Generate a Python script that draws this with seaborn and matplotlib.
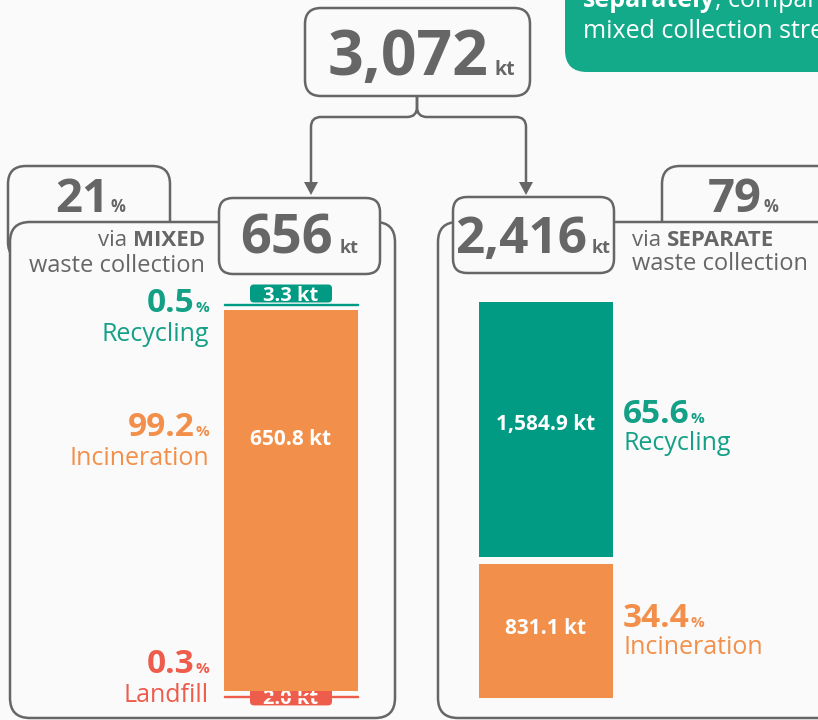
import numpy as np
import pandas as pd
import seaborn as sns
import matplotlib.pyplot as plt
from matplotlib.patches import FancyBboxPatch, Polygon, PathPatch
from matplotlib.path import Path

# data
total_kt = 3072
stream_kt = [656, 2416]
stream_share = [21, 79]
stream_names = ["MIXED", "SEPARATE"]

mixed_labels = ["Recycling", "Incineration", "Landfill"]
mixed_kt = [3.3, 650.8, 2.0]
mixed_pct = [0.5, 99.2, 0.3]

separate_labels = ["Recycling", "Incineration"]
separate_kt = [1584.9, 831.1]
separate_pct = [65.6, 34.4]

BAR_COLORS = {"Recycling": "#019b84", "Incineration": "#f2904b", "Landfill": "#ee5c4b"}
TXT_COLORS = {"Recycling": "#13a086", "Incineration": "#f2904b", "Landfill": "#ee5c4b"}
GREY = "#666666"
BG = "#fafafa"
W, H = 818, 720

sns.set_theme(style="white")
plt.rcParams["font.family"] = ["Open Sans", "DejaVu Sans"]

fig = plt.figure(figsize=(W / 100, H / 100), dpi=100, facecolor=BG)
ax = fig.add_axes([0, 0, 1, 1])
ax.set_xlim(0, W)
ax.set_ylim(H, 0)
ax.axis("off")
renderer = fig.canvas.get_renderer()


def box(x0, y0, x1, y1, r, fc=BG, ec=GREY, z=1):
    p = FancyBboxPatch((x0, y0), x1 - x0, y1 - y0,
                       boxstyle=f"round,pad=0,rounding_size={r}",
                       fc=fc, ec=ec, lw=1.8, zorder=z, clip_on=False)
    ax.add_patch(p)


def num_unit(x, y, num, unit, size, usize, color, ha="center", gap=3):
    t1 = ax.text(0, y, num, fontsize=size, fontweight="bold", color=color,
                 va="baseline", ha="left", zorder=6)
    t2 = ax.text(0, y, unit, fontsize=usize, fontweight="bold", color=color,
                 va="baseline", ha="left", zorder=6)
    w1 = t1.get_window_extent(renderer).width
    w2 = t2.get_window_extent(renderer).width
    tot = w1 + gap + w2
    x0 = {"center": x - tot / 2, "left": x, "right": x - tot}[ha]
    t1.set_x(x0)
    t2.set_x(x0 + w1 + gap)


# panels and tabs
box(8, 166, 170, 260, 18, z=1)
box(10, 222, 395, 718, 20, z=2)
box(662, 166, 860, 260, 18, z=1)
box(438, 222, 860, 718, 20, z=2)
box(219, 198, 380, 274, 14, z=3)
box(453, 197, 614, 273, 14, z=3)
box(305, 8, 530, 96, 16, z=3)
box(565, -40, 880, 72, 22, fc="#13aa8a", ec="none", z=3)

# top-right note (cut off by the figure edge, as in the source)
t = ax.text(583, 7, "separately", fontsize=18, fontweight="bold", color="white",
            va="baseline", ha="left", zorder=6)
wb = t.get_window_extent(renderer).width
ax.text(583 + wb, 7, ", compared to the", fontsize=18, color="white",
        va="baseline", ha="left", zorder=6)
ax.text(583, 38, "mixed collection stream", fontsize=18, color="white",
        va="baseline", ha="left", zorder=6)

# connector from total to the two streams
cx, yb, yh, r = 417, 97, 117, 10
xl, xr, ytip, ah = 311, 526, 195, 13
for xe in (xl, xr):
    s = -1 if xe < cx else 1
    verts = [(cx, yb), (cx, yh - r), (cx, yh), (cx + s * r, yh),
             (xe - s * r, yh), (xe, yh), (xe, yh + r), (xe, ytip - ah + 1)]
    codes = [Path.MOVETO, Path.LINETO, Path.CURVE3, Path.CURVE3,
             Path.LINETO, Path.CURVE3, Path.CURVE3, Path.LINETO]
    ax.add_patch(PathPatch(Path(verts, codes), fc="none", ec=GREY, lw=1.8, zorder=4))
    ax.add_patch(Polygon([(xe - 7, ytip - ah), (xe + 7, ytip - ah), (xe, ytip)],
                         closed=True, fc=GREY, ec="none", zorder=4))

# headline numbers
num_unit(421, 75, f"{total_kt:,}", "kt", 45, 14, GREY, gap=6)
num_unit(299, 253, f"{stream_kt[0]:,}", "kt", 39, 13, GREY, gap=7)
num_unit(533, 253, f"{stream_kt[1]:,}", "kt", 37, 13, GREY, gap=4)
num_unit(90, 212, f"{stream_share[0]}", "%", 34, 12, GREY, gap=1)
num_unit(743, 212, f"{stream_share[1]}", "%", 34, 12, GREY, gap=1)

# "via ... waste collection"
t = ax.text(205, 246, stream_names[0], fontsize=16, fontweight="bold", color=GREY,
            va="baseline", ha="right", zorder=6)
wb = t.get_window_extent(renderer).width
ax.text(205 - wb, 246, "via ", fontsize=16, color=GREY, va="baseline", ha="right", zorder=6)
ax.text(205, 272, "waste collection", fontsize=17, color=GREY, va="baseline", ha="right", zorder=6)
t = ax.text(632, 246, "via ", fontsize=16, color=GREY, va="baseline", ha="left", zorder=6)
wb = t.get_window_extent(renderer).width
ax.text(632 + wb, 246, stream_names[1], fontsize=16, fontweight="bold", color=GREY,
        va="baseline", ha="left", zorder=6)
ax.text(632, 270, "waste collection", fontsize=17, color=GREY, va="baseline", ha="left", zorder=6)


def stacked_bar(rect, labels, values, gap, name):
    bax = fig.add_axes(rect)
    bottoms = {}
    b = 0.0
    # stack from the bottom segment up
    for lab, val in zip(labels[::-1], values[::-1]):
        df = pd.DataFrame({"stream": [name], "kt": [val]})
        thin = val < 10
        sns.barplot(data=df, x="stream", y="kt", color=BAR_COLORS[lab], saturation=1,
                    width=1, bottom=b, edgecolor=BAR_COLORS[lab],
                    linewidth=1.0 if thin else 0, ax=bax)
        bottoms[lab] = b
        b += val + gap
    bax.set_xlim(-0.5, 0.5)
    bax.set_ylim(0, b - gap)
    bax.axis("off")
    bax.patch.set_alpha(0)
    for p in bax.patches:
        p.set_clip_on(False)
    return bax, bottoms


def to_px(bax, x, y):
    d = bax.transData.transform((x, y))
    return ax.transData.inverted().transform(d)


# left (mixed) bar: x 224-358 px, y 303-698 px
axL, botL = stacked_bar([224 / W, (H - 697) / H, 134 / W, (697 - 303.5) / H],
                        mixed_labels, mixed_kt, 8.4, "Mixed")
# right (separate) bar: x 479-613 px, y 302-698 px
axR, botR = stacked_bar([479 / W, (H - 698) / H, 134 / W, (698 - 302) / H],
                        separate_labels, separate_kt, 40.6, "Separate")

# values inside the large segments (label height as share of the segment)
label_frac = {"Mixed": 0.66, "Separate": 0.52}
for bax, bots, labs, vals, nm in ((axL, botL, mixed_labels, mixed_kt, "Mixed"),
                                  (axR, botR, separate_labels, separate_kt, "Separate")):
    for lab, val in zip(labs, vals):
        if val > 100:
            bax.text(0, bots[lab] + val * label_frac[nm], f"{val:,.1f} kt", color="white",
                     fontsize=15, fontweight="bold", ha="center", va="center", zorder=6)

# tags for the thin segments on the left bar
bx = to_px(axL, 0, 0)[0]
top_rec = to_px(axL, 0, botL["Recycling"] + mixed_kt[0])[1]
box(bx - 41, top_rec - 19, bx + 41, top_rec - 1, 4, fc=BAR_COLORS["Recycling"], ec="none", z=5)
ax.text(bx, top_rec - 3, f"{mixed_kt[0]:.1f} kt", color="white", fontsize=14.5,
        fontweight="bold", ha="center", va="baseline", zorder=6)
mid_land = to_px(axL, 0, botL["Landfill"] + mixed_kt[2] / 2)[1]
box(bx - 41, mid_land - 9, bx + 41, mid_land + 9, 4, fc=BAR_COLORS["Landfill"], ec="none", z=5)
ax.text(bx, mid_land + 7.5, f"{mixed_kt[2]:.1f} kt", color="white", fontsize=14.5,
        fontweight="bold", ha="center", va="baseline", zorder=6)

# percentage labels
left_base = [312, 436, 673]
for lab, pct, yb0 in zip(mixed_labels, mixed_pct, left_base):
    num_unit(209, yb0, f"{pct:.1f}", "%", 24, 11, TXT_COLORS[lab], ha="right", gap=1)
    ax.text(209, yb0 + 29, lab, fontsize=18, color=TXT_COLORS[lab],
            va="baseline", ha="right", zorder=6)
right_base = [423, 627]
for lab, pct, yb0 in zip(separate_labels, separate_pct, right_base):
    num_unit(623, yb0, f"{pct:.1f}", "%", 24, 11, TXT_COLORS[lab], ha="left", gap=1)
    ax.text(623, yb0 + 27, lab, fontsize=18, color=TXT_COLORS[lab],
            va="baseline", ha="left", zorder=6)

fig.savefig("out.png", dpi=100, facecolor=BG)
